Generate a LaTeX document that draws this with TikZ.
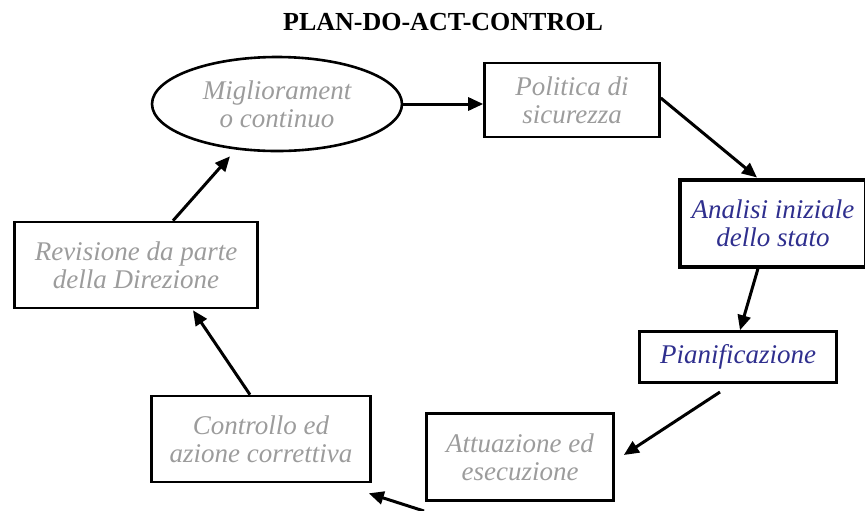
\documentclass[tikz,border=0pt]{standalone}
\usepackage{fontspec}
\setmainfont{Liberation Serif}
\usepackage{xcolor}
\usetikzlibrary{positioning,arrows.meta,calc,shapes.geometric}
\definecolor{grigio}{HTML}{9C9C9C}
\definecolor{blu}{HTML}{2F2F8E}

\begin{document}
\begin{tikzpicture}[
  x=0.5pt, y=-0.5pt,
  font=\fontsize{13.5}{14}\selectfont\itshape,
  fase/.style   ={draw, line width=1.3pt, align=center, inner sep=2pt, text=grigio},
  fasebold/.style={fase, line width=2pt, text=blu},
  ciclo/.style  ={draw, ellipse, line width=1.3pt, align=center, inner sep=0pt, text=grigio},
  titolo/.style ={font=\fontsize{13}{14}\selectfont\bfseries},
  arr/.style    ={-{Triangle[length=7.5pt, width=6.5pt]}, line width=1.5pt}
]
\useasboundingbox (0,0) rectangle (865,510);

% ---- title ----
\node[titolo] (tit) at (443,22) {PLAN-DO-ACT-CONTROL};

% ---- the cycle ----
\node[ciclo, minimum width=125pt, minimum height=47pt] (migl) at (277,104) {Migliorament\\o continuo};
\node[fase, minimum width=87.5pt, minimum height=37pt] (pol) at (572,100) {Politica di\\sicurezza};
\node[fasebold, minimum width=93pt, minimum height=43.5pt] (ana) at (773,223) {Analisi iniziale\\dello stato};
\node[fasebold, line width=1.3pt, minimum width=98.5pt, minimum height=25.5pt] (pian) at (738,357) {Pianificazione};
\node[fase, minimum width=93.5pt, minimum height=43.5pt] (att) at (520,457) {Attuazione ed\\esecuzione};
\node[fase, minimum width=109.5pt, minimum height=43pt] (ctrl) at (261,439) {Controllo ed\\azione correttiva};
\node[fase, minimum width=121.5pt, minimum height=43pt] (rev) at (136,265) {Revisione da parte\\della Direzione};

% free ends of the two lower connectors
\coordinate (pianout) at (720,392);
\coordinate (attout) at (424,511);

% ---- connectors ----
\draw[arr] (migl.east) -- (migl.east -| pol.west);
\draw[arr] ($(pol.east)+(0,-2)$) -- ($(ana.north)+(-16,0)$);
\draw[arr] ($(ana.south)+(-15,0)$) -- ($(pian.north)+(2,0)$);
\draw[arr] (pianout) -- ($(att.east)+(9,-2)$);
\draw[arr] (attout) -- ($(ctrl.south east)+(-3,10)$);
\draw[arr] ($(ctrl.north)+(-11,0)$) -- ($(rev.south)+(57,1)$);
\draw[arr] ($(rev.north)+(37,0)$) -- ($(migl.south)+(-47,4)$);

\end{tikzpicture}
\end{document}
